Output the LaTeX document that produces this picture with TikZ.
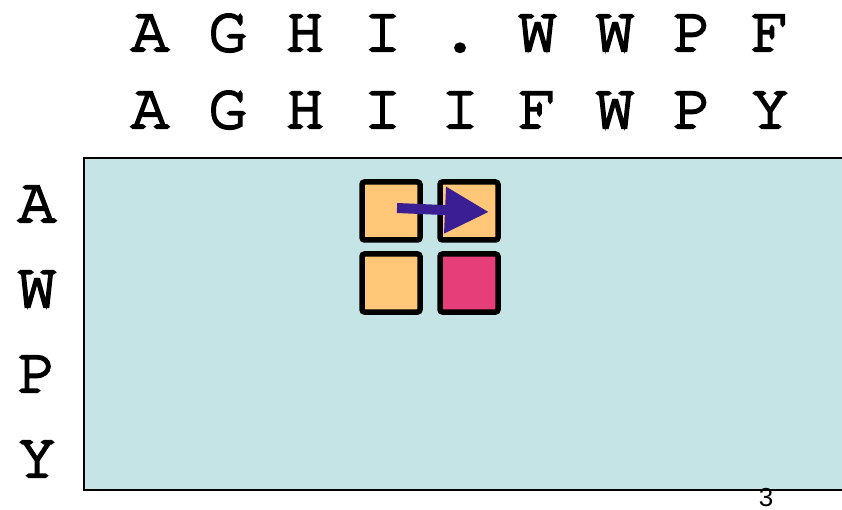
\documentclass[tikz,border=0pt]{standalone}
\usepackage{fontspec}
\setmainfont{Liberation Sans}
\newfontfamily\cour[FakeBold=3.5]{TeX Gyre Cursor}
\usetikzlibrary{arrows.meta}
\definecolor{gridbg}{HTML}{C4E4E6}
\definecolor{cellorange}{HTML}{FFC777}
\definecolor{cellpink}{HTML}{E63E78}
\definecolor{arrowpurple}{HTML}{3A1F94}
\tikzset{
  seq/.style={font=\cour\fontsize{64}{64}\selectfont, inner sep=0pt, anchor=base},
  cell/.style={draw=black, line width=5.5pt, rounded corners=2.5pt, minimum size=58pt, inner sep=0pt},
}
\begin{document}
\begin{tikzpicture}[x=1pt,y=-1pt]
\useasboundingbox (0,0) rectangle (842,510);
% top sequence
\foreach \ch [count=\i] in {A,G,H,I,.,W,W,P,F} {
  \node[seq] (t\i) at ({150+77.5*(\i-1)},51) {\ch};
}
% second sequence
\foreach \ch [count=\i] in {A,G,H,I,I,F,W,P,Y} {
  \node[seq] (m\i) at ({150+77.5*(\i-1)},128) {\ch};
}
% left column
\node[seq] (la) at (37,222) {A};
\node[seq] (lw) at (37,307) {W};
\node[seq] (lp) at (37,392) {P};
\node[seq] (ly) at (37,477) {Y};
% matrix area
\node[draw=black, line width=2pt, fill=gridbg, minimum width=800pt, minimum height=332pt, inner sep=0pt, anchor=north west] (grid) at (83,157) {};
% cells
\node[cell, fill=cellorange] (c11) at (391,211) {};
\node[cell, fill=cellorange] (c12) at (469,211) {};
\node[cell, fill=cellorange] (c21) at (391,283) {};
\node[cell, fill=cellpink] (c22) at (469,283) {};
% arrow
\coordinate (as) at (397,208);
\coordinate (ae) at (489,212);
\draw[arrowpurple, line width=10pt, -{Triangle[length=44pt,width=44pt]}] (as) -- (ae);
% page number
\node[font=\fontsize{26}{26}\selectfont, anchor=base, inner sep=0pt] (pg) at (766,506) {3};
\end{tikzpicture}
\end{document}
